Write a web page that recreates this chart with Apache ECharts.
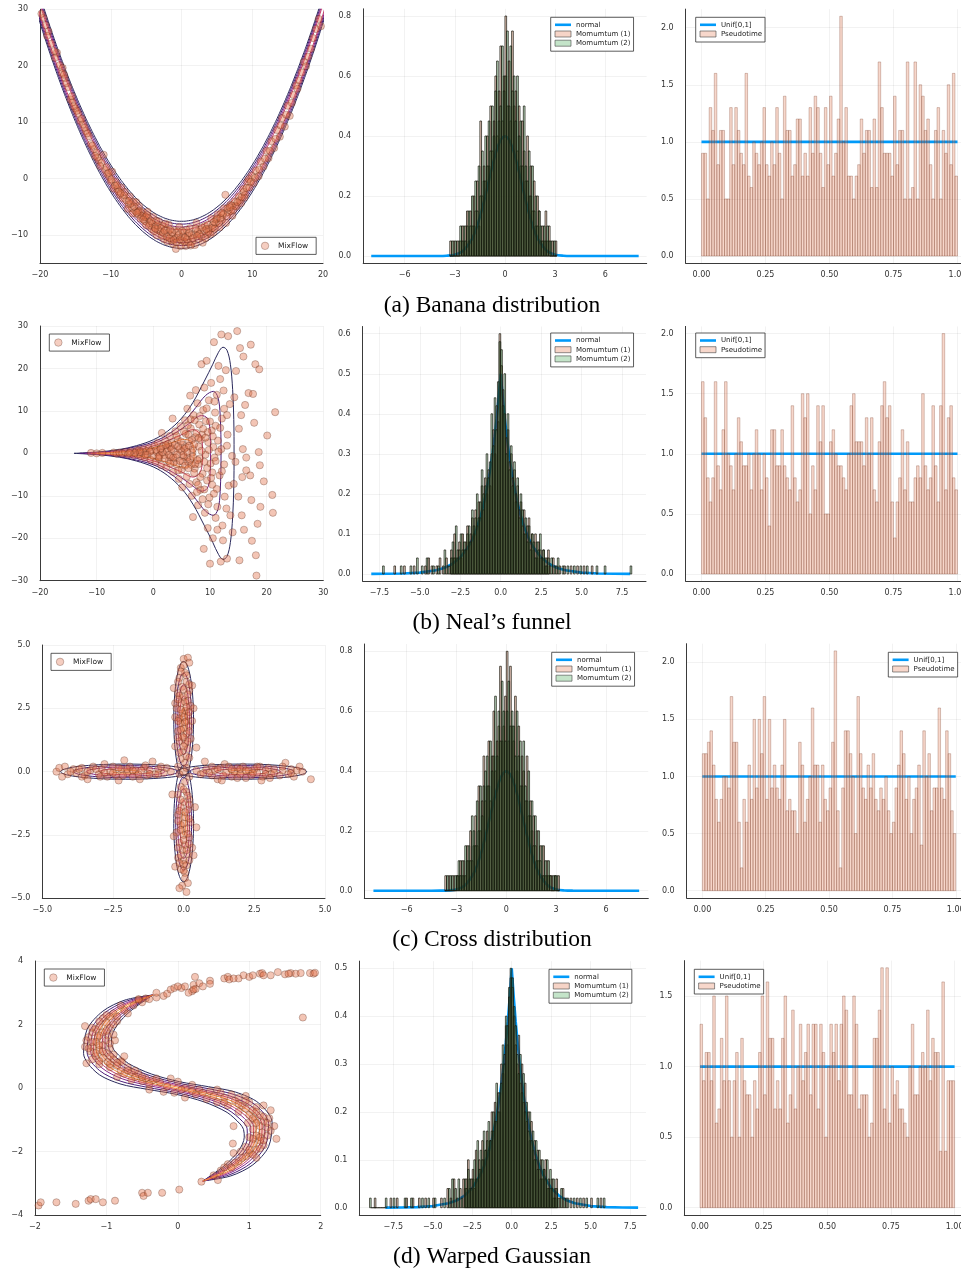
<!DOCTYPE html>
<html><head><meta charset="utf-8">
<script src="https://cdn.jsdelivr.net/npm/echarts@6/dist/echarts.min.js"></script>
<style>html,body{margin:0;padding:0;background:#fff}#c{width:961px;height:1273px}</style>
</head><body><div id="c"></div>
<script>
// ======================= DATA =======================
const captions = ['(a) Banana distribution', '(b) Neal\u2019s funnel', '(c) Cross distribution', '(d) Warped Gaussian'];

// tick labels
const ticksA1x = [-20, -10, 0, 10, 20], ticksA1y = [-10, 0, 10, 20, 30];
const ticksMomX6 = [-6, -3, 0, 3, 6], ticksMomY8 = [0, 0.2, 0.4, 0.6, 0.8];
const ticksPseudoX = [0, 0.25, 0.5, 0.75, 1], ticksPseudoY2 = [0, 0.5, 1, 1.5, 2], ticksPseudoY15 = [0, 0.5, 1, 1.5];
const ticksB1x = [-20, -10, 0, 10, 20, 30], ticksB1y = [-30, -20, -10, 0, 10, 20, 30];
const ticksMomX75 = [-7.5, -5, -2.5, 0, 2.5, 5, 7.5];
const ticksB2y = [0, 0.1, 0.2, 0.3, 0.4, 0.5, 0.6], ticksD2y = [0, 0.1, 0.2, 0.3, 0.4, 0.5];
const ticksC1 = [-5, -2.5, 0, 2.5, 5];
const ticksD1x = [-2, -1, 0, 1, 2], ticksD1y = [-4, -2, 0, 2, 4];

// reference densities
const gaussX = [-8, -5, -4, -3.5, -3, -2.5, -2, -1.75, -1.5, -1.25, -1, -0.75, -0.5, -0.25, 0, 0.25, 0.5, 0.75, 1, 1.25, 1.5, 1.75, 2, 2.5, 3, 3.5, 4, 5, 8];
const gaussY = [0, 0, 0.0001, 0.0009, 0.0044, 0.0175, 0.054, 0.086, 0.13, 0.183, 0.242, 0.301, 0.352, 0.387, 0.399, 0.387, 0.352, 0.301, 0.242, 0.183, 0.13, 0.086, 0.054, 0.0175, 0.0044, 0.0009, 0.0001, 0, 0];
const lapX = [-8, -7, -6, -5, -4, -3.5, -3, -2.5, -2, -1.75, -1.5, -1.25, -1, -0.75, -0.625, -0.5, -0.375, -0.25, -0.125, 0, 0.125, 0.25, 0.375, 0.5, 0.625, 0.75, 1, 1.25, 1.5, 1.75, 2, 2.5, 3, 3.5, 4, 5, 6, 7, 8];
const lapY = [0.0002, 0.0005, 0.0012, 0.0034, 0.0092, 0.015, 0.025, 0.041, 0.068, 0.087, 0.112, 0.143, 0.184, 0.236, 0.268, 0.303, 0.344, 0.389, 0.441, 0.5, 0.441, 0.389, 0.344, 0.303, 0.268, 0.236, 0.184, 0.143, 0.112, 0.087, 0.068, 0.041, 0.025, 0.015, 0.0092, 0.0034, 0.0012, 0.0005, 0.0002];
const unifX = [0, 1], unifY = [1, 1];

// momentum histograms, bin width 0.1
const BIN = 0.1;
const momA_start = -3.3;
const momA1 = [0.05,0,0.05,0,0.05,0,0.05,0.1,0.05,0.1,0.15,0.05,0.15,0.1,0.2,0.15,0.25,0.1,0.45,0.2,0.3,0.25,0.4,0.3,0.5,0.35,0.45,0.6,0.4,0.55,0.7,0.45,0.6,0.8,0.5,0.65,0.45,0.75,0.5,0.55,0.35,0.5,0.3,0.45,0.35,0.25,0.4,0.2,0.3,0.15,0.25,0.1,0.2,0.15,0.05,0.1,0.05,0.15,0.05,0.1,0,0.05,0,0.05];
const momA2 = [0,0.05,0,0.05,0,0.05,0.1,0.05,0.1,0.05,0.1,0.15,0.1,0.2,0.1,0.25,0.15,0.3,0.2,0.35,0.25,0.4,0.3,0.45,0.35,0.5,0.4,0.55,0.65,0.45,0.5,0.7,0.55,0.6,0.75,0.5,0.7,0.55,0.6,0.45,0.6,0.4,0.45,0.3,0.5,0.3,0.25,0.35,0.2,0.3,0.15,0.2,0.1,0.15,0.1,0.05,0.1,0.05,0.1,0.05,0.05,0,0.05,0];
const momC_start = -3.7;
const momC1 = [0.05,0,0.05,0,0,0.05,0,0.05,0.05,0.1,0.05,0.1,0.05,0.15,0.1,0.2,0.1,0.15,0.25,0.15,0.35,0.2,0.3,0.45,0.3,0.35,0.5,0.3,0.45,0.6,0.4,0.5,0.55,0.75,0.5,0.55,0.65,0.8,0.5,0.75,0.55,0.5,0.65,0.4,0.55,0.35,0.45,0.4,0.3,0.45,0.25,0.3,0.2,0.25,0.15,0.2,0.1,0.15,0.05,0.15,0.05,0.1,0.05,0.05,0.05,0,0.05,0,0.05];
const momC2 = [0,0.05,0,0.05,0.05,0,0.05,0.05,0.1,0.05,0.1,0.05,0.15,0.1,0.15,0.1,0.25,0.2,0.15,0.3,0.2,0.35,0.25,0.35,0.4,0.45,0.35,0.5,0.4,0.45,0.65,0.45,0.6,0.5,0.7,0.6,0.5,0.6,0.7,0.55,0.6,0.55,0.45,0.6,0.45,0.5,0.35,0.5,0.35,0.3,0.4,0.25,0.3,0.15,0.25,0.1,0.2,0.1,0.15,0.05,0.1,0.05,0.1,0.05,0,0.05,0.05,0.05,0];
// [bin centre, density]
const momB1 = [[-6.55,0.02],[-5.95,0.02],[-5.35,0.02],[-4.65,0.02],[-4.45,0.04],[-4.25,0.02],[-3.95,0.02],[-3.75,0.04],[-3.55,0.02],[-3.35,0.04],[-3.15,0.02],[-3.05,0.06],
 [-2.95,0.04],[-2.85,0.1],[-2.75,0.04],[-2.65,0.06],[-2.55,0.08],[-2.45,0.04],[-2.35,0.1],[-2.25,0.06],[-2.15,0.08],[-2.05,0.12],[-1.95,0.08],[-1.85,0.1],[-1.75,0.14],[-1.65,0.1],[-1.55,0.16],[-1.45,0.12],[-1.35,0.18],[-1.25,0.14],[-1.15,0.22],[-1.05,0.16],[-0.95,0.24],[-0.85,0.2],[-0.75,0.26],[-0.65,0.22],[-0.55,0.3],[-0.45,0.36],[-0.35,0.3],[-0.25,0.42],[-0.15,0.38],[-0.05,0.6],
 [0.05,0.52],[0.15,0.46],[0.25,0.4],[0.35,0.34],[0.45,0.36],[0.55,0.28],[0.65,0.3],[0.75,0.24],[0.85,0.26],[0.95,0.2],[1.05,0.22],[1.15,0.16],[1.25,0.18],[1.35,0.12],[1.45,0.16],[1.55,0.1],[1.65,0.12],[1.75,0.14],[1.85,0.08],[1.95,0.1],[2.05,0.06],[2.15,0.1],[2.25,0.04],[2.35,0.08],[2.45,0.06],[2.55,0.04],[2.65,0.06],[2.75,0.02],[2.85,0.04],[2.95,0.06],
 [3.05,0.02],[3.25,0.04],[3.45,0.02],[3.65,0.02],[3.95,0.02],[4.35,0.02],[4.75,0.02],[5.15,0.02],[5.65,0.02]];
const momB2 = [[-7.25,0.02],[-6.15,0.02],[-5.55,0.02],[-5.15,0.04],[-4.85,0.02],[-4.55,0.04],[-4.15,0.02],[-3.85,0.02],[-3.45,0.06],[-3.25,0.02],[-3.05,0.04],
 [-2.95,0.08],[-2.85,0.04],[-2.75,0.12],[-2.65,0.04],[-2.55,0.06],[-2.45,0.1],[-2.35,0.06],[-2.25,0.08],[-2.15,0.06],[-2.05,0.1],[-1.95,0.12],[-1.85,0.08],[-1.75,0.16],[-1.65,0.12],[-1.55,0.14],[-1.45,0.2],[-1.35,0.14],[-1.25,0.18],[-1.15,0.26],[-1.05,0.2],[-0.95,0.22],[-0.85,0.3],[-0.75,0.24],[-0.65,0.28],[-0.55,0.4],[-0.45,0.32],[-0.35,0.44],[-0.25,0.36],[-0.15,0.48],[-0.05,0.58],
 [0.05,0.56],[0.15,0.42],[0.25,0.5],[0.35,0.3],[0.45,0.4],[0.55,0.26],[0.65,0.32],[0.75,0.22],[0.85,0.28],[0.95,0.18],[1.05,0.24],[1.15,0.14],[1.25,0.2],[1.35,0.16],[1.45,0.1],[1.55,0.14],[1.65,0.08],[1.75,0.12],[1.85,0.06],[1.95,0.1],[2.05,0.08],[2.15,0.04],[2.25,0.08],[2.35,0.06],[2.45,0.1],[2.55,0.04],[2.65,0.06],[2.75,0.04],[2.85,0.02],[2.95,0.04],
 [3.15,0.04],[3.35,0.02],[3.55,0.04],[3.85,0.02],[4.15,0.02],[4.55,0.02],[4.95,0.02],[5.35,0.02],[5.95,0.02],[6.45,0.02],[8.05,0.02]];
const momD1 = [[-8.65,0.02],[-7.65,0.02],[-7.25,0.02],[-6.65,0.02],[-6.25,0.02],[-5.85,0.02],[-5.45,0.02],[-4.95,0.02],[-4.45,0.02],[-4.05,0.04],[-3.85,0.02],[-3.65,0.06],[-3.45,0.02],[-3.25,0.04],[-3.05,0.06],
 [-2.95,0.04],[-2.85,0.06],[-2.75,0.1],[-2.65,0.04],[-2.55,0.06],[-2.45,0.08],[-2.35,0.04],[-2.25,0.12],[-2.15,0.06],[-2.05,0.1],[-1.95,0.08],[-1.85,0.14],[-1.75,0.1],[-1.65,0.12],[-1.55,0.16],[-1.45,0.12],[-1.35,0.14],[-1.25,0.2],[-1.15,0.16],[-1.05,0.22],[-0.95,0.18],[-0.85,0.24],[-0.75,0.2],[-0.65,0.3],[-0.55,0.28],[-0.45,0.32],[-0.35,0.38],[-0.25,0.34],[-0.15,0.44],[-0.05,0.48],
 [0.05,0.46],[0.15,0.4],[0.25,0.34],[0.35,0.3],[0.45,0.36],[0.55,0.26],[0.65,0.3],[0.75,0.22],[0.85,0.26],[0.95,0.18],[1.05,0.2],[1.15,0.14],[1.25,0.18],[1.35,0.12],[1.45,0.14],[1.55,0.1],[1.65,0.12],[1.75,0.08],[1.85,0.1],[1.95,0.06],[2.05,0.08],[2.15,0.1],[2.25,0.04],[2.35,0.06],[2.45,0.04],[2.55,0.06],[2.65,0.02],[2.75,0.04],[2.85,0.06],
 [3.05,0.02],[3.25,0.04],[3.45,0.02],[3.75,0.02],[4.15,0.02],[4.55,0.02],[5.05,0.02],[5.65,0.02]];
const momD2 = [[-8.95,0.02],[-8.85,0],[-8.75,0],[-8.65,0],[-8.55,0],[-8.45,0],[-8.35,0],[-8.25,0],[-8.15,0],[-8.05,0],[-7.95,0.02],[-7.45,0.02],[-6.75,0.02],[-6.35,0.02],[-5.65,0.02],[-5.25,0.02],[-4.85,0.02],[-4.25,0.02],[-3.95,0.04],[-3.75,0.06],[-3.55,0.04],[-3.35,0.06],[-3.15,0.02],
 [-2.95,0.06],[-2.85,0.04],[-2.75,0.08],[-2.65,0.06],[-2.55,0.04],[-2.45,0.06],[-2.35,0.1],[-2.25,0.06],[-2.15,0.14],[-2.05,0.08],[-1.95,0.12],[-1.85,0.1],[-1.75,0.16],[-1.65,0.12],[-1.55,0.14],[-1.45,0.18],[-1.35,0.14],[-1.25,0.16],[-1.15,0.2],[-1.05,0.18],[-0.95,0.26],[-0.85,0.2],[-0.75,0.24],[-0.65,0.26],[-0.55,0.34],[-0.45,0.3],[-0.35,0.4],[-0.25,0.38],[-0.15,0.46],[-0.05,0.5],
 [0.05,0.48],[0.15,0.42],[0.25,0.38],[0.35,0.32],[0.45,0.28],[0.55,0.32],[0.65,0.24],[0.75,0.28],[0.85,0.2],[0.95,0.22],[1.05,0.16],[1.15,0.2],[1.25,0.14],[1.35,0.16],[1.45,0.1],[1.55,0.14],[1.65,0.08],[1.75,0.12],[1.85,0.06],[1.95,0.1],[2.05,0.08],[2.15,0.06],[2.25,0.1],[2.35,0.04],[2.45,0.08],[2.55,0.04],[2.65,0.06],[2.75,0.02],[2.85,0.04],[2.95,0.02],
 [3.15,0.04],[3.35,0.02],[3.55,0.02],[3.95,0.02],[4.35,0.02],[4.75,0.02],[5.45,0.02],[5.85,0.02]];

// pseudotime histograms (100 bins on [0,1])
const pseudoA = [0.9,0.9,0.5,1.3,1.1,1.6,0.8,1.1,1.1,0.5, 0.5,1.3,0.8,1.3,1.1,0.9,0.8,1.6,0.7,0.6, 1.0,0.9,0.8,1.0,1.3,0.8,0.7,1.0,0.8,1.3, 0.9,0.5,1.4,1.1,1.1,0.7,0.8,1.2,1.2,0.7, 0.9,0.7,1.3,0.9,1.4,1.3,0.9,0.6,1.3,0.8, 1.4,0.7,0.9,1.2,2.1,1.0,1.3,0.7,0.7,0.5, 0.7,0.8,1.2,0.9,1.1,1.1,0.6,1.2,0.6,1.7, 1.3,0.9,0.9,0.9,0.7,1.4,0.8,1.1,1.1,0.5, 1.7,0.5,0.6,1.7,0.5,1.5,1.4,1.1,1.2,0.8, 0.5,1.1,1.3,0.5,1.1,0.9,1.5,0.8,1.6,0.7];
const pseudoB = [1.6,1.3,0.8,0.6,0.8,1.6,0.9,0.7,1.2,1.6, 1.0,0.9,0.7,1.0,1.3,1.1,0.9,0.9,1.0,0.7, 1.0,1.2,1.0,0.7,1.0,0.8,0.4,1.2,1.2,0.9, 0.9,1.2,0.9,0.8,0.7,1.4,0.8,0.6,0.7,1.5, 1.3,1.5,0.5,0.9,0.7,1.4,1.1,1.4,0.5,0.5, 1.1,1.2,1.0,0.9,0.9,0.8,0.7,1.0,1.4,1.5, 1.1,1.1,1.1,0.9,1.3,1.0,1.3,0.7,0.6,1.1, 1.4,1.6,1.3,1.4,0.6,0.3,0.6,0.8,1.2,0.7, 1.1,0.6,0.6,0.8,0.9,0.8,1.5,0.9,0.7,0.8, 1.4,0.9,0.6,1.4,2.0,0.7,1.3,1.4,0.8,0.7];
const pseudoC = [1.2,1.2,1.3,1.4,1.1,0.8,0.6,0.8,1.0,1.0, 0.9,1.7,1.3,1.3,0.6,0.2,0.8,0.6,1.1,0.8, 1.5,0.9,1.5,1.2,1.7,0.8,1.5,0.9,1.1,0.9, 0.8,1.1,1.5,0.7,0.8,0.7,0.7,0.5,1.3,1.1, 0.6,0.8,1.0,1.6,1.1,1.1,0.6,1.1,0.8,0.7, 0.9,1.3,2.1,0.7,0.2,0.9,1.4,1.4,1.2,1.0, 0.5,1.7,1.2,0.9,0.8,1.1,0.9,1.2,0.8,0.7, 0.9,0.8,1.0,0.7,0.5,0.6,0.9,1.1,1.4,1.2, 0.8,1.0,0.5,0.8,0.9,1.1,0.4,1.4,1.0,1.2, 0.7,0.9,0.9,1.6,0.9,0.8,1.4,1.2,0.7,0.5];
const pseudoD = [1.3,0.9,1.1,1.1,0.9,1.5,0.6,0.7,1.2,0.9, 1.5,0.9,0.5,0.9,1.1,0.5,1.2,0.9,0.8,0.8, 0.5,0.9,0.7,1.1,1.5,0.8,1.6,1.2,1.2,0.7, 0.9,0.7,1.2,1.5,0.6,0.8,1.4,0.7,1.0,1.3, 0.9,1.1,1.3,0.8,1.3,1.3,0.7,1.3,1.1,0.5, 1.0,1.3,1.1,1.3,0.9,1.3,1.5,1.4,0.8,0.8, 1.5,1.3,0.7,0.8,0.8,0.8,0.5,0.6,1.2,1.2, 1.4,1.7,0.7,1.7,0.6,1.0,0.8,0.9,0.7,0.7, 0.6,0.5,1.0,1.3,0.8,0.8,1.0,1.1,1.0,1.4, 0.9,1.2,1.1,1.1,0.4,1.6,0.4,0.9,0.9,0.9];
const PBIN = 0.01;

// MixFlow samples
const flowA = [[-19.5,28.5],[-19.2,27.2],[-18.8,26.1],[-17.6,22.3],[-17.2,20.1],[-16.8,19.6],[-16.5,17.8],[-16.0,16.2],[-15.7,14.0],[-15.4,13.5],[-15.0,12.4],[-14.6,11.5],[-14.3,10.2],[-13.9,9.6],[-13.5,8.4],[-13.1,7.5],[-12.8,6.1],[-12.4,5.2],[-12.0,4.6],[-11.7,3.2],[-11.3,2.8],[-11.0,4.2],[-10.8,1.5],[-10.5,0.8],[-10.2,0.3],[-10.0,-0.5],[-9.8,1.2],[-9.6,-1.8],[-9.3,-0.6],[-9.0,-1.9],[-8.7,-2.9],[-8.5,-1.6],[-8.3,-3.5],[-8.0,-2.4],[-7.8,-3.9],[-7.5,-4.6],[-7.3,-3.2],[-7.0,-5.3],[-6.8,-4.1],[-6.5,-5.8],[-6.2,-6.4],[-6.0,-4.9],[-5.8,-7.1],[-5.5,-6.0],[-5.2,-7.6],[-5.0,-8.3],[-4.8,-5.9],[-4.5,-7.9],[-4.2,-9.0],[-4.0,-6.8],[-3.8,-8.6],[-3.5,-10.1],[-3.2,-7.6],[-3.0,-9.4],[-2.7,-8.3],[-2.5,-10.8],[-2.2,-9.0],[-2.0,-11.2],[-1.8,-8.2],[-1.5,-10.0],[-1.2,-11.6],[-1.0,-9.2],[-0.8,-12.5],[-0.6,-10.5],[-0.3,-8.6],[0.0,-11.0],[0.3,-9.6],[0.6,-12.0],[0.9,-10.2],[1.2,-8.8],[1.5,-11.3],[1.8,-9.9],[2.1,-7.9],[2.4,-10.7],[2.7,-9.1],[3.0,-11.4],[3.3,-8.4],[3.6,-10.0],[3.9,-8.9],[4.2,-7.1],[4.5,-9.6],[4.8,-8.0],[5.1,-6.4],[5.4,-8.7],[5.7,-7.4],[6.0,-5.3],[6.2,-2.9],[6.3,-7.9],[6.6,-6.0],[6.9,-4.7],[7.2,-6.6],[7.5,-4.1],[7.8,-5.0],[8.1,-3.2],[8.4,-4.4],[8.7,-1.9],[9.0,-2.9],[9.3,-0.6],[9.6,-1.6],[9.9,0.5],[10.2,-0.8],[10.5,1.4],[10.9,0.4],[11.2,3.0],[11.6,2.1],[12.0,4.9],[12.3,3.6],[12.7,6.6],[13.1,5.4],[13.5,8.6],[13.9,7.4],[14.2,10.7],[14.6,9.2],[15.0,12.9],[15.3,11.1],[15.8,14.8],[16.2,16.5],[16.6,17.4],[17.0,18.8],[17.3,20.7],[17.9,21.6],[18.6,24.9],[19.0,26.5],[19.4,28.3],[19.7,27.0],
 [-7.6,-5.4],[-6.9,-6.2],[-6.4,-4.2],[-5.9,-5.7],[-5.3,-6.9],[-4.7,-7.0],[-4.1,-8.1],[-3.6,-7.5],[-3.3,-9.0],[-2.8,-10.2],[-2.3,-8.0],[-1.9,-9.6],[-1.4,-11.0],[-0.9,-10.6],[-0.5,-9.4],[-0.1,-12.0],[0.2,-10.3],[0.7,-9.1],[1.0,-11.4],[1.4,-10.1],[1.9,-11.8],[2.3,-9.4],[2.8,-10.3],[3.2,-9.3],[3.7,-8.2],[4.1,-9.9],[4.4,-8.3],[4.9,-7.3],[5.3,-7.9],[5.8,-6.5],[6.4,-6.7],[7.0,-5.8],[7.6,-4.9],[8.2,-3.9],[8.9,-3.4],[9.5,-0.1],[-8.9,-2.3],[-9.4,-1.3],[-10.6,2.0],[-11.5,2.2],[-12.6,5.8],[-13.3,8.0],[-14.1,10.6],[-14.8,12.0],[-15.5,14.6],[-16.3,16.9],[-16.9,18.7],[-18.0,22.6],[-19.0,25.3],
 [-6.7,-5.0],[-6.1,-5.9],[-5.6,-6.6],[-5.1,-6.8],[-4.6,-8.4],[-4.3,-7.6],[-3.9,-9.4],[-3.4,-8.3],[-2.9,-8.8],[-2.6,-9.6],[-2.1,-10.3],[-1.7,-10.6],[-1.3,-9.6],[-1.1,-10.9],[-0.7,-11.3],[-0.4,-10.0],[0.1,-9.3],[0.4,-11.2],[0.8,-10.8],[1.1,-9.7],[1.6,-10.6],[2.0,-8.9],[2.5,-9.9],[2.9,-8.7],[3.4,-10.6],[3.8,-9.5],[4.3,-8.8],[4.7,-8.9],[5.0,-7.1],[5.5,-7.0],[5.9,-6.2],[6.5,-5.3],[7.1,-4.8],[7.3,-5.6],[7.9,-4.2],[8.5,-3.3],[8.8,-2.4],[9.2,-1.7],[9.8,-0.6],[10.4,0.1],[11.0,1.6],[11.8,3.5],[12.5,4.9],[13.3,7.0],[14.0,9.4],[14.8,11.3],[15.6,13.4],[16.4,15.9],[17.6,19.9],[18.3,23.0],[-7.2,-4.5],[-8.1,-3.0],[-9.1,-1.2],[-9.9,-0.2],[-11.9,3.7],[-13.7,9.0],[-15.2,12.8],[-16.6,18.4],[-17.9,21.4],[-18.4,23.9],[-19.8,29.2],[-4.9,-6.5],[-3.7,-8.9],[-2.4,-9.3],[-1.6,-9.1],[-0.2,-10.8],[0.5,-10.5],[1.3,-11.9],[2.2,-10.2],[3.5,-9.0],[4.6,-7.7],[5.6,-6.1],[6.8,-5.1],[-5.4,-7.3],[-6.3,-6.1],[-7.4,-4.0],[-8.6,-2.6],[-10.3,1.0],[-12.2,4.0]];
const flowB = [[-11,0.1],[-10,0],[-9,0.1],[-7,0.2],[-6.5,-0.1],[-6,0.2],[-5.5,0],[-5,0.3],[-4.5,-0.2],[-4,0.4],[-3.5,-0.4],[-3,0.6],[-2.8,-0.3],[-2.5,0.8],[-2.2,-0.7],[-2,0.2],[-1.7,1.0],[-1.5,-1.0],[-1.2,0.5],[-1,-0.3],[-0.8,1.3],[-0.5,-1.5],[-0.3,0.7],[0,-0.6],[0.2,1.8],[0.4,-2.0],[0.6,0.3],[0.8,2.5],[1,-1.2],[1.2,0.9],[1.4,-2.8],[1.5,4.8],[1.7,1.7],[1.9,-0.4],[2.1,3.0],[2.3,-3.3],[2.5,1.2],[2.7,-1.8],[2.9,4.1],[3.1,-0.9],[3.3,2.4],[3.4,8.2],[3.5,-4.4],[3.7,0.5],[3.9,5.2],[4.1,-2.6],[4.3,3.3],[4.5,-6.0],[4.6,1.0],[4.8,6.4],[5,-3.9],[5.1,-8.0],[5.2,2.0],[5.4,-0.8],[5.6,7.8],[5.7,4.6],[5.9,-5.5],[6,10.5],[6.1,-2.0],[6.3,2.9],[6.4,-7.2],[6.5,13.6],[6.6,5.9],[6.8,-10.0],[6.9,0.2],[7,-15.0],[7.1,9.0],[7.3,-3.6],[7.4,3.8],[7.5,14.9],[7.6,-6.8],[7.8,11.8],[7.9,-12.2],[8,1.6],[8.1,6.8],[8.2,-1.2],[8.3,-8.6],[8.5,21.0],[8.6,4.4],[8.7,-4.8],[8.8,10.2],[8.9,-22.5],[9,15.5],[9.1,-14.0],[9.2,-0.3],[9.3,7.6],[9.4,21.8],[9.5,-6.4],[9.6,-17.6],[9.7,2.6],[9.8,12.5],[9.9,-10.4],[10,-26.0],[10.1,-2.4],[10.2,16.6],[10.3,5.4],[10.4,-7.4],[10.5,-20.0],[10.7,26.2],[10.8,-1.0],[10.9,9.6],[11,-15.2],[11.2,13.8],[11.3,-12.6],[11.4,3.0],[11.5,20.6],[11.7,-5.2],[11.9,-25.5],[12,28.0],[12.1,8.2],[12.2,-17.0],[12.4,14.8],[12.5,-2.6],[12.6,-10.2],[12.8,19.6],[13,-24.8],[13.1,4.4],[13.2,27.6],[13.3,-7.6],[13.5,11.6],[13.6,-14.6],[13.9,-0.6],[14,-18.6],[14.2,-7.2],[14.3,13.2],[14.5,-2.0],[14.6,19.4],[14.8,28.8],[15,-10.2],[15.1,5.8],[15.2,-25.2],[15.3,24.8],[15.5,9.0],[15.6,-14.6],[15.8,1.0],[15.9,22.8],[16.0,-18.0],[16.2,11.4],[16.4,-4.0],[16.8,14.2],[17.1,-5.2],[17.2,25.6],[17.4,-20.6],[17.8,7.2],[18.0,21.0],[18.1,-24.0],[18.2,-28.8],[18.4,-16.6],[18.6,0.3],[18.7,19.8],[18.8,-2.8],[18.9,-12.6],[19.5,-6.6],[20.1,4.2],[21.0,-9.8],[21.1,-14.0],[21.5,9.7],[16.4,-1.0],[17.6,14.0],[15.7,-5.6],[17.3,-11.0],
 [3,1.5],[4,-1],[5,0.5],[6,-1],[7,1],[8,-2.5],[4.4,-4],[6.2,4.4],[7.2,-4.6],[8.4,3.2],[5.2,-2],[6.7,-2.7],[5.8,1.4],[3.6,-2.1],[2.6,2.2],[9,-8.5],[8.2,8.8],[7.7,-9.1],[6.6,8.0],[9.6,5.0],[10.6,1.5],[10.4,-4.5],[11,6.5],[11.2,-8.4],[12,1.0],[12.9,-13.0],[13.0,9.0],[12.3,-20.5],[11.8,17.5],
 [0.5,0.8],[1.1,-0.5],[1.6,0.2],[2.0,-1.2],[2.4,0.5],[2.8,-0.4],[3.2,1.0],[3.5,-1.0],[3.8,2.0],[4.2,-0.3],[4.4,1.6],[4.7,-1.8],[4.9,2.8],[5.3,-0.4],[5.5,1.1],[5.6,-2.9],[6.0,0.3],[6.2,-3.5],[6.3,1.8],[6.5,-1.5],[6.8,3.2],[7.0,-0.8],[7.2,2.1],[7.4,-2.5],[7.6,4.8],[7.8,-1.6],[8.0,3.6],[8.3,-5.6],[8.5,0.6],[8.8,5.8],[9.0,-2.0],[9.2,3.7],[9.5,-3.5],[9.8,0.8],[10.0,7.5],[10.2,-5.8],[10.5,4.0],[10.7,-9.5],[11.0,-1.8],[11.5,0.4],[11.8,6.0],[12.1,-4.2],[12.5,10.5],[13.0,1.8],[6.1,6.6],[5.4,5.1],[4.1,4.1],[3.0,-2.4],[2.2,1.9],[1.3,1.2],[0.9,-0.9],[-0.6,0.4],[-1.4,-0.3],[-2.4,0.3],[-3.3,0.1],[-4.2,0.1],[7.9,-7.4],[8.7,-10.8],[9.4,10.6],[10.8,12.2],[9.7,-12.0],[11.3,-18.0],[7.3,7.8]];
const flowC = [[0.0,4.45],[0.15,4.5],[-0.1,4.1],[0.2,4.3],[0.05,3.9],[-0.15,3.7],[0.1,3.55],[-0.05,3.35],[0.2,3.2],[-0.2,3.1],[0.0,2.95],[0.15,2.8],[-0.1,2.7],[0.25,2.6],[-0.25,2.5],[0.05,2.4],[-0.05,2.3],[0.15,2.2],[-0.15,2.1],[0.1,2.0],[-0.1,1.9],[0.2,1.8],[0.0,1.7],[-0.2,1.6],[0.1,1.5],[-0.05,1.4],[0.25,1.3],[-0.15,1.2],[0.05,1.1],[-0.3,1.0],[0.15,0.9],[0.45,0.95],[-0.05,0.8],[0.1,0.6],[-0.1,0.5],[0.05,0.35],[0.3,2.0],[-0.3,2.7],[0.35,2.5],[0.3,3.4],[-0.35,3.3],[-0.3,2.15],
 [0.05,-0.4],[-0.1,-0.6],[0.1,-0.8],[-0.2,-0.9],[0.2,-1.1],[0.0,-1.2],[-0.1,-1.4],[0.15,-1.5],[-0.2,-1.7],[0.05,-1.8],[0.25,-2.0],[-0.1,-2.1],[0.1,-2.25],[-0.25,-2.4],[0.0,-2.5],[0.2,-2.6],[-0.15,-2.8],[0.05,-2.9],[0.3,-3.0],[-0.05,-3.1],[0.15,-3.25],[-0.2,-3.4],[0.0,-3.5],[0.1,-3.7],[-0.1,-3.85],[0.05,-4.0],[-0.05,-4.5],[0.15,-4.4],[-0.15,-4.6],[0.1,-4.75],[0.45,-2.2],[-0.35,-2.55],[0.4,-1.4],[-0.4,-0.9],[0.35,-3.3],[-0.3,-3.75],
 [-4.5,0.0],[-4.4,0.15],[-4.2,0.2],[-4.1,-0.1],[-3.9,0.1],[-3.8,-0.05],[-3.6,0.15],[-3.5,-0.15],[-3.3,0.05],[-3.2,0.2],[-3.0,-0.1],[-2.9,0.1],[-2.7,-0.2],[-2.6,0.0],[-2.5,0.2],[-2.4,-0.15],[-2.2,0.1],[-2.1,0.45],[-2.0,-0.05],[-1.9,0.2],[-1.8,-0.2],[-1.7,0.05],[-1.6,-0.1],[-1.4,0.15],[-1.3,-0.15],[-1.2,0.05],[-1.1,0.4],[-1.0,-0.1],[-0.9,0.1],[-0.7,-0.05],[-0.6,0.15],[-0.45,0.0],[-2.3,-0.35],[-1.55,-0.3],[-3.4,-0.3],[-2.8,0.3],[-4.3,-0.2],
 [0.45,0.05],[0.6,-0.1],[0.75,0.4],[0.8,0.1],[1.0,-0.15],[1.1,0.05],[1.2,-0.3],[1.3,0.15],[1.45,0.3],[1.5,-0.05],[1.6,0.2],[1.7,-0.2],[1.8,0.0],[1.9,0.15],[2.0,-0.1],[2.1,0.2],[2.2,-0.25],[2.3,0.05],[2.4,-0.15],[2.5,0.1],[2.6,-0.05],[2.7,0.2],[2.8,-0.2],[2.9,0.05],[3.0,0.15],[3.1,-0.1],[3.2,0.1],[3.4,-0.15],[3.5,0.05],[3.6,0.35],[3.7,-0.1],[3.8,0.1],[3.9,-0.2],[4.0,0.05],[4.1,0.2],[4.5,-0.3],[2.75,-0.35],[1.35,-0.35],
 [0,0],[0.1,0.15],[-0.15,-0.1],[0.2,-0.2],[-0.2,0.2],
 [0.0,4.2],[-0.1,3.95],[0.1,3.8],[-0.2,3.55],[0.2,3.45],[0.0,3.25],[-0.15,3.0],[0.15,3.05],[0.05,2.75],[-0.2,2.85],[0.1,2.55],[-0.1,2.45],[0.2,2.35],[0.0,2.15],[-0.2,2.0],[0.05,1.95],[0.2,1.6],[-0.1,1.65],[0.0,1.35],[-0.2,1.35],[0.15,1.2],[0.0,1.0],[-0.15,0.75],[0.2,0.55],
 [0.0,-0.7],[0.15,-0.95],[-0.1,-1.1],[0.2,-1.3],[-0.15,-1.55],[0.05,-1.6],[0.2,-1.85],[-0.2,-1.95],[0.0,-2.05],[-0.1,-2.3],[0.15,-2.45],[0.0,-2.7],[0.2,-2.85],[-0.2,-3.0],[0.1,-3.1],[-0.1,-3.3],[0.2,-3.5],[0.0,-3.65],[-0.15,-3.6],[0.0,-3.9],[0.05,-4.2],
 [-4.0,0.0],[-3.7,0.1],[-3.4,0.0],[-3.1,0.1],[-2.8,-0.05],[-2.5,-0.05],[-2.3,0.15],[-2.0,0.1],[-1.8,0.05],[-1.5,0.05],[-1.2,-0.1],[-0.9,-0.1],[-0.8,0.2],[-3.6,-0.2],[-2.95,-0.2],[-2.15,-0.15],[-1.35,0.25],
 [0.9,-0.05],[1.2,0.1],[1.4,-0.15],[1.7,0.1],[2.0,0.1],[2.2,0.05],[2.45,-0.05],[2.6,0.2],[2.9,-0.1],[3.2,-0.05],[3.5,0.2],[3.8,-0.05],[4.2,0.0],[1.0,0.2],[1.9,-0.25],[3.05,-0.25],[0.7,-0.05]];
const flowD = [[-0.55,2.78],[-0.45,2.82],[-0.3,2.85],[-0.2,2.9],[-0.15,2.97],[-0.1,3.1],[-0.05,3.15],[0.05,3.15],[0.1,3.2],[0.2,3.05],[0.22,3.25],[0.25,3.12],[0.3,3.3],[0.35,3.2],[0.45,3.38],[0.45,3.28],[0.65,3.45],[0.7,3.5],[0.72,3.42],[0.85,3.45],[0.92,3.55],[1.0,3.5],[1.05,3.55],[1.15,3.6],[1.18,3.62],[1.3,3.55],[1.4,3.65],[1.5,3.58],[1.58,3.62],[1.65,3.6],[1.72,3.62],[1.85,3.62],[1.9,3.6],[1.92,3.63],[1.75,2.22],[-0.3,3.0],[0.0,3.2],[-0.4,2.8],[0.15,3.0],[0.24,3.5],[1.2,3.55],[1.55,3.6],[0.78,3.45],[0.22,3.1],
 [-1.95,-3.7],[-1.92,-3.6],[-1.7,-3.6],[-1.43,-3.65],[-1.25,-3.55],[-1.22,-3.5],[-1.15,-3.5],[-1.05,-3.6],[-0.88,-3.55],[-0.5,-3.3],[-0.48,-3.4],[-0.42,-3.3],[-0.22,-3.3],[0.02,-3.2],[0.33,-2.95],[0.56,-2.9],[0.77,-1.75],[0.78,-2.05],[1.38,-1.6],
 [-0.9,2.35],[-0.95,2.25],[-1.05,2.2],[-0.85,2.1],[-1.0,2.05],[-1.1,1.95],[-0.95,1.9],[-1.15,1.85],[-1.05,1.75],[-1.2,1.75],[-0.98,1.65],[-1.12,1.6],[-1.25,1.6],[-1.0,1.5],[-1.15,1.45],[-1.28,1.5],[-1.05,1.35],[-1.2,1.3],[-1.3,1.3],[-0.95,1.25],[-1.1,1.2],[-1.22,1.15],[-1.0,1.1],[-1.15,1.0],[-0.9,1.05],[-1.05,0.95],[-1.2,0.9],[-0.9,0.9],[-0.98,0.82],[-0.8,0.85],[-1.1,0.75],[-0.85,0.7],[-0.95,0.65],[-0.7,0.65],[-0.8,0.55],[-0.65,0.5],[-0.75,0.45],[-0.55,0.45],[-0.6,0.35],[-0.45,0.3],[-0.5,0.22],[-0.35,0.25],[-0.4,0.12],[-0.25,0.18],[-0.78,0.82],[-0.88,1.5],[-1.28,0.78],[-0.9,1.68],[-0.75,2.45],[-1.3,1.95],[-0.62,2.6],[-0.5,2.7],[-0.8,2.6],[-0.55,2.8],[-0.75,1.0],[-0.85,0.35],
 [0.3,-0.05],[0.35,-0.15],[0.45,-0.1],[0.5,-0.25],[0.6,-0.15],[0.65,-0.3],[0.75,-0.2],[0.8,-0.4],[0.85,-0.3],[0.9,-0.55],[1.0,-0.45],[0.95,-0.65],[1.05,-0.7],[1.1,-0.6],[1.0,-0.85],[1.15,-0.85],[1.08,-1.0],[1.2,-1.05],[0.98,-1.1],[1.15,-1.2],[1.25,-1.25],[1.05,-1.3],[1.18,-1.4],[1.1,-1.5],[1.25,-1.5],[1.0,-1.55],[1.15,-1.65],[1.05,-1.75],[1.2,-1.8],[0.95,-1.85],[1.1,-1.95],[1.0,-2.05],[0.88,-2.0],[0.95,-2.15],[0.85,-2.3],[0.7,-2.4],[0.75,-2.5],[0.6,-2.6],[1.28,-0.95],[0.7,-0.55],[0.2,-0.1],[0.55,-0.45],[0.85,-0.75],[1.3,-0.7],[0.78,-1.2],[1.1,-2.2],[0.5,-2.75],[0.95,-0.25],[0.4,-0.35],[0.1,0.0],
 [-0.15,0.05],[-0.05,-0.15],[0,0.2],[0.05,-0.05],[-0.1,0.3],[0.1,-0.3],[-0.2,-0.12],[0.2,0.1],[-0.4,-0.05],
 [-1.0,2.3],[-1.1,2.1],[-0.9,2.0],[-1.2,1.9],[-1.0,1.8],[-1.1,1.65],[-1.2,1.45],[-1.1,1.35],[-0.95,1.4],[-1.25,1.25],[-1.05,1.15],[-1.15,1.1],[-0.95,1.0],[-1.1,0.85],[-0.85,0.8],[-0.95,0.75],[-0.7,0.55],[-0.6,0.55],[-0.5,0.35],[-0.3,0.3],[-0.65,0.25],[-0.85,2.25],[-0.7,2.35],
 [0.25,-0.2],[0.55,-0.05],[0.65,-0.45],[0.85,-0.5],[0.95,-0.4],[1.1,-0.75],[1.2,-0.9],[1.05,-0.95],[1.25,-1.1],[1.1,-1.1],[1.3,-1.35],[1.15,-1.55],[1.2,-1.65],[1.05,-1.6],[1.15,-1.9],[1.0,-1.95],[1.05,-2.1],[0.9,-2.2],[0.8,-2.35],[0.65,-2.5],[1.35,-1.2],[1.2,-0.55]];

// target-density contours
const contourColors = ['#2b2a5c', '#4b1d78', '#86288a', '#c33d6a', '#f08a3a'];
const bananaMid = [[-21,34.1],[-20,30],[-19,26.1],[-18,22.4],[-17,18.9],[-16,15.6],[-15,12.5],[-14,9.6],[-13,6.9],[-12,4.4],[-11,2.1],[-10,0],[-9,-1.9],[-8,-3.6],[-7,-5.1],[-6,-6.4],[-5,-7.5],[-4,-8.4],[-3,-9.1],[-2,-9.6],[-1,-9.9],[0,-10],[1,-9.9],[2,-9.6],[3,-9.1],[4,-8.4],[5,-7.5],[6,-6.4],[7,-5.1],[8,-3.6],[9,-1.9],[10,0],[11,2.1],[12,4.4],[13,6.9],[14,9.6],[15,12.5],[16,15.6],[17,18.9],[18,22.4],[19,26.1],[20,30],[21,34.1]];
const bananaHalf = [2.4, 1.9, 1.4, 0.9];
const funnelLevels = [
 [[-14,0],[-10,0.3],[-6,0.9],[-3,1.8],[0,3.2],[2.5,5.2],[5,8.3],[7,12],[9,17],[10.5,21],[11.5,23.8],[12.3,25],[13,24.3],[13.6,21],[14,15],[14.2,8],[14.25,0]],
 [[-13,0],[-8,0.4],[-4,1.3],[0,2.7],[3,4.8],[5.5,7.6],[7.5,10.8],[9.2,13.6],[10.6,14.6],[11.4,13.2],[11.8,9],[11.95,0]],
 [[-12,0],[-6,0.55],[-2,1.5],[1,2.8],[4,4.9],[6.5,7.2],[8.5,8.9],[9.5,8.3],[10,5.5],[10.1,0]],
 [[-11,0],[-5,0.5],[-1,1.4],[2,2.7],[5,4.4],[7,5.6],[8.2,4.6],[8.65,2.2],[8.7,0]],
 [[-10,0],[-4,0.45],[0,1.2],[3,2.4],[5.5,3.3],[6.8,2.6],[7.2,0]]];
const crossEllipses = [[0,2.05,0.35,2.3],[0,-2.05,0.35,2.3],[2.05,0,2.3,0.3],[-2.05,0,2.3,0.3]];
const crossScale = [1, 0.8, 0.6, 0.4, 0.2];
const warpEdgeA = [[-0.35,2.93],[-0.66,2.43],[-0.85,1.98],[-0.93,1.55],[-0.92,1.31],[-0.87,1.13],[-0.69,0.77],[-0.37,0.44],[0.02,0.20],[0.43,0.04],[0.81,-0.13],[1.13,-0.47],[1.32,-1.09],[1.27,-1.85],[1.05,-2.42],[0.74,-2.77],[0.35,-2.93]];
const warpEdgeB = [[-0.35,2.93],[-0.74,2.77],[-1.05,2.42],[-1.27,1.85],[-1.32,1.09],[-1.13,0.47],[-0.81,0.13],[-0.43,-0.04],[-0.02,-0.20],[0.37,-0.44],[0.69,-0.77],[0.87,-1.13],[0.92,-1.31],[0.93,-1.55],[0.85,-1.98],[0.66,-2.43],[0.35,-2.93]];
const warpScale = [1, 0.75, 0.5, 0.3, 0.12];

// ======================= LAYOUT / STYLE =======================
const layout = {
  A1:{box:[40,9.3,283,253.7], x:[-20,20], y:[-15,30], xt:ticksA1x, yt:ticksA1y, xd:0, yd:0},
  A2:{box:[363.2,8.8,283.5,254.4], x:[-8.48,8.48], y:[-0.024,0.824], xt:ticksMomX6, yt:ticksMomY8, xd:0, yd:1},
  A3:{box:[685.7,9.1,287.6,254.1], x:[-0.0617,1.0617], y:[-0.063,2.163], xt:ticksPseudoX, yt:ticksPseudoY2, xd:2, yd:1},
  B1:{box:[40,326,283.3,254.7], x:[-20,30], y:[-30,30], xt:ticksB1x, yt:ticksB1y, xd:0, yd:0},
  B2:{box:[362.7,326.5,283.3,254.7], x:[-8.53,8.98], y:[-0.018,0.618], xt:ticksMomX75, yt:ticksB2y, xd:1, yd:1},
  B3:{box:[685.7,326.4,287.6,254.8], x:[-0.0617,1.0617], y:[-0.06,2.06], xt:ticksPseudoX, yt:ticksPseudoY2, xd:2, yd:1},
  C1:{box:[42.3,645,282.7,253.3], x:[-5,5], y:[-5,5], xt:ticksC1, yt:ticksC1, xd:1, yd:1},
  C2:{box:[364.3,644,284,254], x:[-8.55,8.55], y:[-0.0244,0.8244], xt:ticksMomX6, yt:ticksMomY8, xd:0, yd:1},
  C3:{box:[686.7,643.7,284.7,254.2], x:[-0.0617,1.0617], y:[-0.063,2.163], xt:ticksPseudoX, yt:ticksPseudoY2, xd:2, yd:1},
  D1:{box:[35,961,285.7,254], x:[-2,2], y:[-4,4], xt:ticksD1x, yt:ticksD1y, xd:0, yd:0},
  D2:{box:[359.3,961.1,286.7,253.8], x:[-9.65,8.5], y:[-0.015,0.515], xt:ticksMomX75, yt:ticksD2y, xd:1, yd:1},
  D3:{box:[684.3,960.6,286,254.3], x:[-0.0617,1.0617], y:[-0.051,1.751], xt:ticksPseudoX, yt:ticksPseudoY15, xd:2, yd:1}
};
const BLUE = '#009af9';
const M1FILL = 'rgba(226,111,70,0.30)', M2FILL = 'rgba(61,164,77,0.30)', MSTROKE = 'rgba(22,22,12,0.8)';
const PFILL = 'rgba(226,111,70,0.28)', PSTROKE = 'rgba(120,60,40,0.5)';
const PTFILL = 'rgba(226,111,70,0.5)', PTSTROKE = 'rgba(70,30,15,0.6)';
const FONT = 'DejaVu Sans';

const grids = [], xAxes = [], yAxes = [], series = [], legends = [];
const idx = {};
function fmt(v, d) { return (d === 0 ? String(Math.round(v)) : Number(v).toFixed(d)).replace('-', '\u2212'); }
function mkAxis(dim, i, p) {
  const r = dim === 'x' ? p.x : p.y, t = dim === 'x' ? p.xt : p.yt, d = dim === 'x' ? p.xd : p.yd;
  return {type:'value', gridIndex:i, min:r[0], max:r[1], scale:true,
    axisLine:{show:true, onZero:false, lineStyle:{color:'#3a3a3a', width:1}},
    axisTick:{show:false, customValues:t},
    axisLabel:{customValues:t, fontSize:8, fontFamily:FONT, color:'#333', margin: dim === 'x' ? 8 : 12,
      formatter: v => fmt(v, d)},
    splitLine:{show:true, lineStyle:{color:'rgba(0,0,0,0.08)', width:0.7}}};
}
Object.keys(layout).forEach((k, i) => {
  const p = layout[k]; idx[k] = i;
  grids.push({left:p.box[0], top:p.box[1], width:p.box[2], height:p.box[3], containLabel:false, outerBoundsMode:'none'});
  xAxes.push(mkAxis('x', i, p));
  yAxes.push(mkAxis('y', i, p));
});

function lineS(k, data, color, width, opts) {
  return Object.assign({type:'line', xAxisIndex:idx[k], yAxisIndex:idx[k], data, symbol:'none', showSymbol:false,
    smooth:false, clip:true, silent:true, animation:false, z:2, lineStyle:{color, width}}, opts || {});
}
function histS(k, name, bins, fill, stroke, lw) {
  return {type:'custom', name, xAxisIndex:idx[k], yAxisIndex:idx[k], data:bins, clip:true, silent:true, animation:false, z:3,
    encode:{x:[0,1], y:2}, itemStyle:{color:fill, borderColor:stroke},
    renderItem:(params, api) => {
      const a = api.coord([api.value(0), api.value(2)]), b = api.coord([api.value(1), 0]);
      return {type:'rect', shape:{x:a[0], y:a[1], width:b[0]-a[0], height:b[1]-a[1]}, style:{fill, stroke, lineWidth:lw}};
    }};
}
function scatterS(k, data) {
  return {type:'scatter', name:'MixFlow', xAxisIndex:idx[k], yAxisIndex:idx[k], data, symbolSize:7.2, silent:true, animation:false,
    itemStyle:{color:PTFILL, borderColor:PTSTROKE, borderWidth:0.6}, z:5};
}
const zip = (xs, ys) => xs.map((x, j) => [x, ys[j]]);
const binsFrom = (start, hs, w) => hs.map((h, j) => [start + j*w, start + (j+1)*w, h]);
const binsPairs = (pairs, w) => pairs.map(([c, h]) => [c - w/2, c + w/2, h]);

// ---- column 1: samples + contours ----
bananaHalf.forEach((h, l) => {
  series.push(lineS('A1', bananaMid.map(([x, y]) => [x, y + h]), contourColors[l], 1, {smooth:true}));
  series.push(lineS('A1', bananaMid.map(([x, y]) => [x, y - h]), contourColors[l], 1, {smooth:true}));
});
series.push(scatterS('A1', flowA));

funnelLevels.forEach((lev, l) => {
  const closed = lev.concat(lev.slice(0, -1).reverse().map(([x, y]) => [x, -y]));
  series.push(lineS('B1', closed, contourColors[l], 1, {smooth:0.35}));
});
series.push(scatterS('B1', flowB));

series.push({type:'custom', xAxisIndex:idx.C1, yAxisIndex:idx.C1, silent:true, animation:false, clip:true, z:2,
  data: crossScale.flatMap((s, l) => crossEllipses.map(e => [e[0], e[1], e[2]*s, e[3]*s, l])),
  encode:{x:0, y:1},
  renderItem:(params, api) => {
    const c = api.coord([api.value(0), api.value(1)]), sz = api.size([api.value(2), api.value(3)]);
    const pts = [];
    for (let t = 0; t < 72; t++) { const a = t/72*2*Math.PI; pts.push([c[0] + sz[0]*Math.cos(a), c[1] + sz[1]*Math.sin(a)]); }
    return {type:'polygon', shape:{points:pts}, style:{fill:null, stroke:contourColors[api.value(4)], lineWidth:1}};
  }});
series.push(scatterS('C1', flowC));

warpScale.forEach((s, l) => {
  const mid = warpEdgeA.map((a, j) => [(a[0] + warpEdgeB[j][0])/2, (a[1] + warpEdgeB[j][1])/2]);
  const sa = warpEdgeA.map((a, j) => [mid[j][0] + s*(a[0]-mid[j][0]), mid[j][1] + s*(a[1]-mid[j][1])]);
  const sb = warpEdgeB.map((b, j) => [mid[j][0] + s*(b[0]-mid[j][0]), mid[j][1] + s*(b[1]-mid[j][1])]);
  series.push(lineS('D1', sa.concat(sb.slice().reverse()), contourColors[l], 1, {smooth:0.3}));
});
series.push(scatterS('D1', flowD));

// ---- column 2: momentum histograms ----
[['A2', gaussX, gaussY, binsFrom(momA_start, momA1, BIN), binsFrom(momA_start, momA2, BIN), true],
 ['B2', lapX, lapY, binsPairs(momB1, BIN), binsPairs(momB2, BIN), false],
 ['C2', gaussX, gaussY, binsFrom(momC_start, momC1, BIN), binsFrom(momC_start, momC2, BIN), true],
 ['D2', lapX, lapY, binsPairs(momD1, BIN), binsPairs(momD2, BIN), false]].forEach(([k, xs, ys, b1, b2, sm]) => {
  series.push(lineS(k, zip(xs, ys), BLUE, 2.6, {name:'normal', smooth:sm ? 0.3 : false}));
  series.push(histS(k, 'Momumtum (1)', b1, M1FILL, MSTROKE, 0.9));
  series.push(histS(k, 'Momumtum (2)', b2, M2FILL, MSTROKE, 0.9));
});

// ---- column 3: pseudotime histograms ----
[['A3', pseudoA], ['B3', pseudoB], ['C3', pseudoC], ['D3', pseudoD]].forEach(([k, hs]) => {
  series.push(lineS(k, zip(unifX, unifY), BLUE, 2.6, {name:'Unif[0,1]'}));
  series.push(histS(k, 'Pseudotime', binsFrom(0, hs, PBIN), PFILL, PSTROKE, 0.6));
});

// ---- legends ----
const LINEICON = 'path://M0,0L16,0L16,2.6L0,2.6Z';
const legBase = {orient:'vertical', selectedMode:false, backgroundColor:'#fff', borderColor:'#333', borderWidth:0.8,
  borderRadius:0, itemGap:2.2, itemWidth:16, itemHeight:6, padding:[4,3,4.5,4], z:10,
  textStyle:{fontSize:7, fontFamily:FONT, color:'#222', lineHeight:7}};
const momItems = [{name:'normal', icon:LINEICON, itemStyle:{color:BLUE, borderWidth:0}},
  {name:'Momumtum (1)', icon:'rect', itemStyle:{color:M1FILL, borderColor:'#444', borderWidth:0.6}},
  {name:'Momumtum (2)', icon:'rect', itemStyle:{color:M2FILL, borderColor:'#444', borderWidth:0.6}}];
const pseItems = [{name:'Unif[0,1]', icon:LINEICON, itemStyle:{color:BLUE, borderWidth:0}},
  {name:'Pseudotime', icon:'rect', itemStyle:{color:PFILL, borderColor:'#444', borderWidth:0.6}}];
const mixItems = [{name:'MixFlow', icon:'circle', itemStyle:{color:'rgba(226,111,70,0.42)', borderColor:PTSTROKE, borderWidth:0.6}}];
function leg(left, top, items, extra) { return Object.assign({}, legBase, {left, top, data:items}, extra || {}); }
const mixExtra = {itemWidth:16, itemHeight:7.5, padding:[4.5,8,4.5,5], textStyle:{fontSize:7.5, fontFamily:FONT, color:'#222', lineHeight:8}};
legends.push(leg(256, 237.3, mixItems, mixExtra));
legends.push(leg(550.7, 17.3, momItems));
legends.push(leg(695.7, 17.3, pseItems));
legends.push(leg(49.3, 334, mixItems, mixExtra));
legends.push(leg(550.7, 333, momItems));
legends.push(leg(695.7, 333, pseItems));
legends.push(leg(51, 653.3, mixItems, mixExtra));
legends.push(leg(551.7, 652.3, momItems));
legends.push(leg(888.3, 652.3, pseItems));
legends.push(leg(44.3, 969, mixItems, mixExtra));
legends.push(leg(549, 969.3, momItems));
legends.push(leg(694.3, 969.3, pseItems));

// ---- captions ----
const captionY = [306, 623, 940, 1257];
const graphic = captions.map((t, k) => ({type:'text', x:492, y:captionY[k], silent:true,
  style:{text:t, font:'23.5px "Liberation Serif"', fill:'#000', align:'center', verticalAlign:'middle', textAlign:'center', textVerticalAlign:'middle'}}));

const chart = echarts.init(document.getElementById('c'), null, {renderer:'canvas', width:961, height:1273});
chart.setOption({animation:false, backgroundColor:'#fff', grid:grids, xAxis:xAxes, yAxis:yAxes, series, legend:legends, graphic});
</script>
</body></html>
